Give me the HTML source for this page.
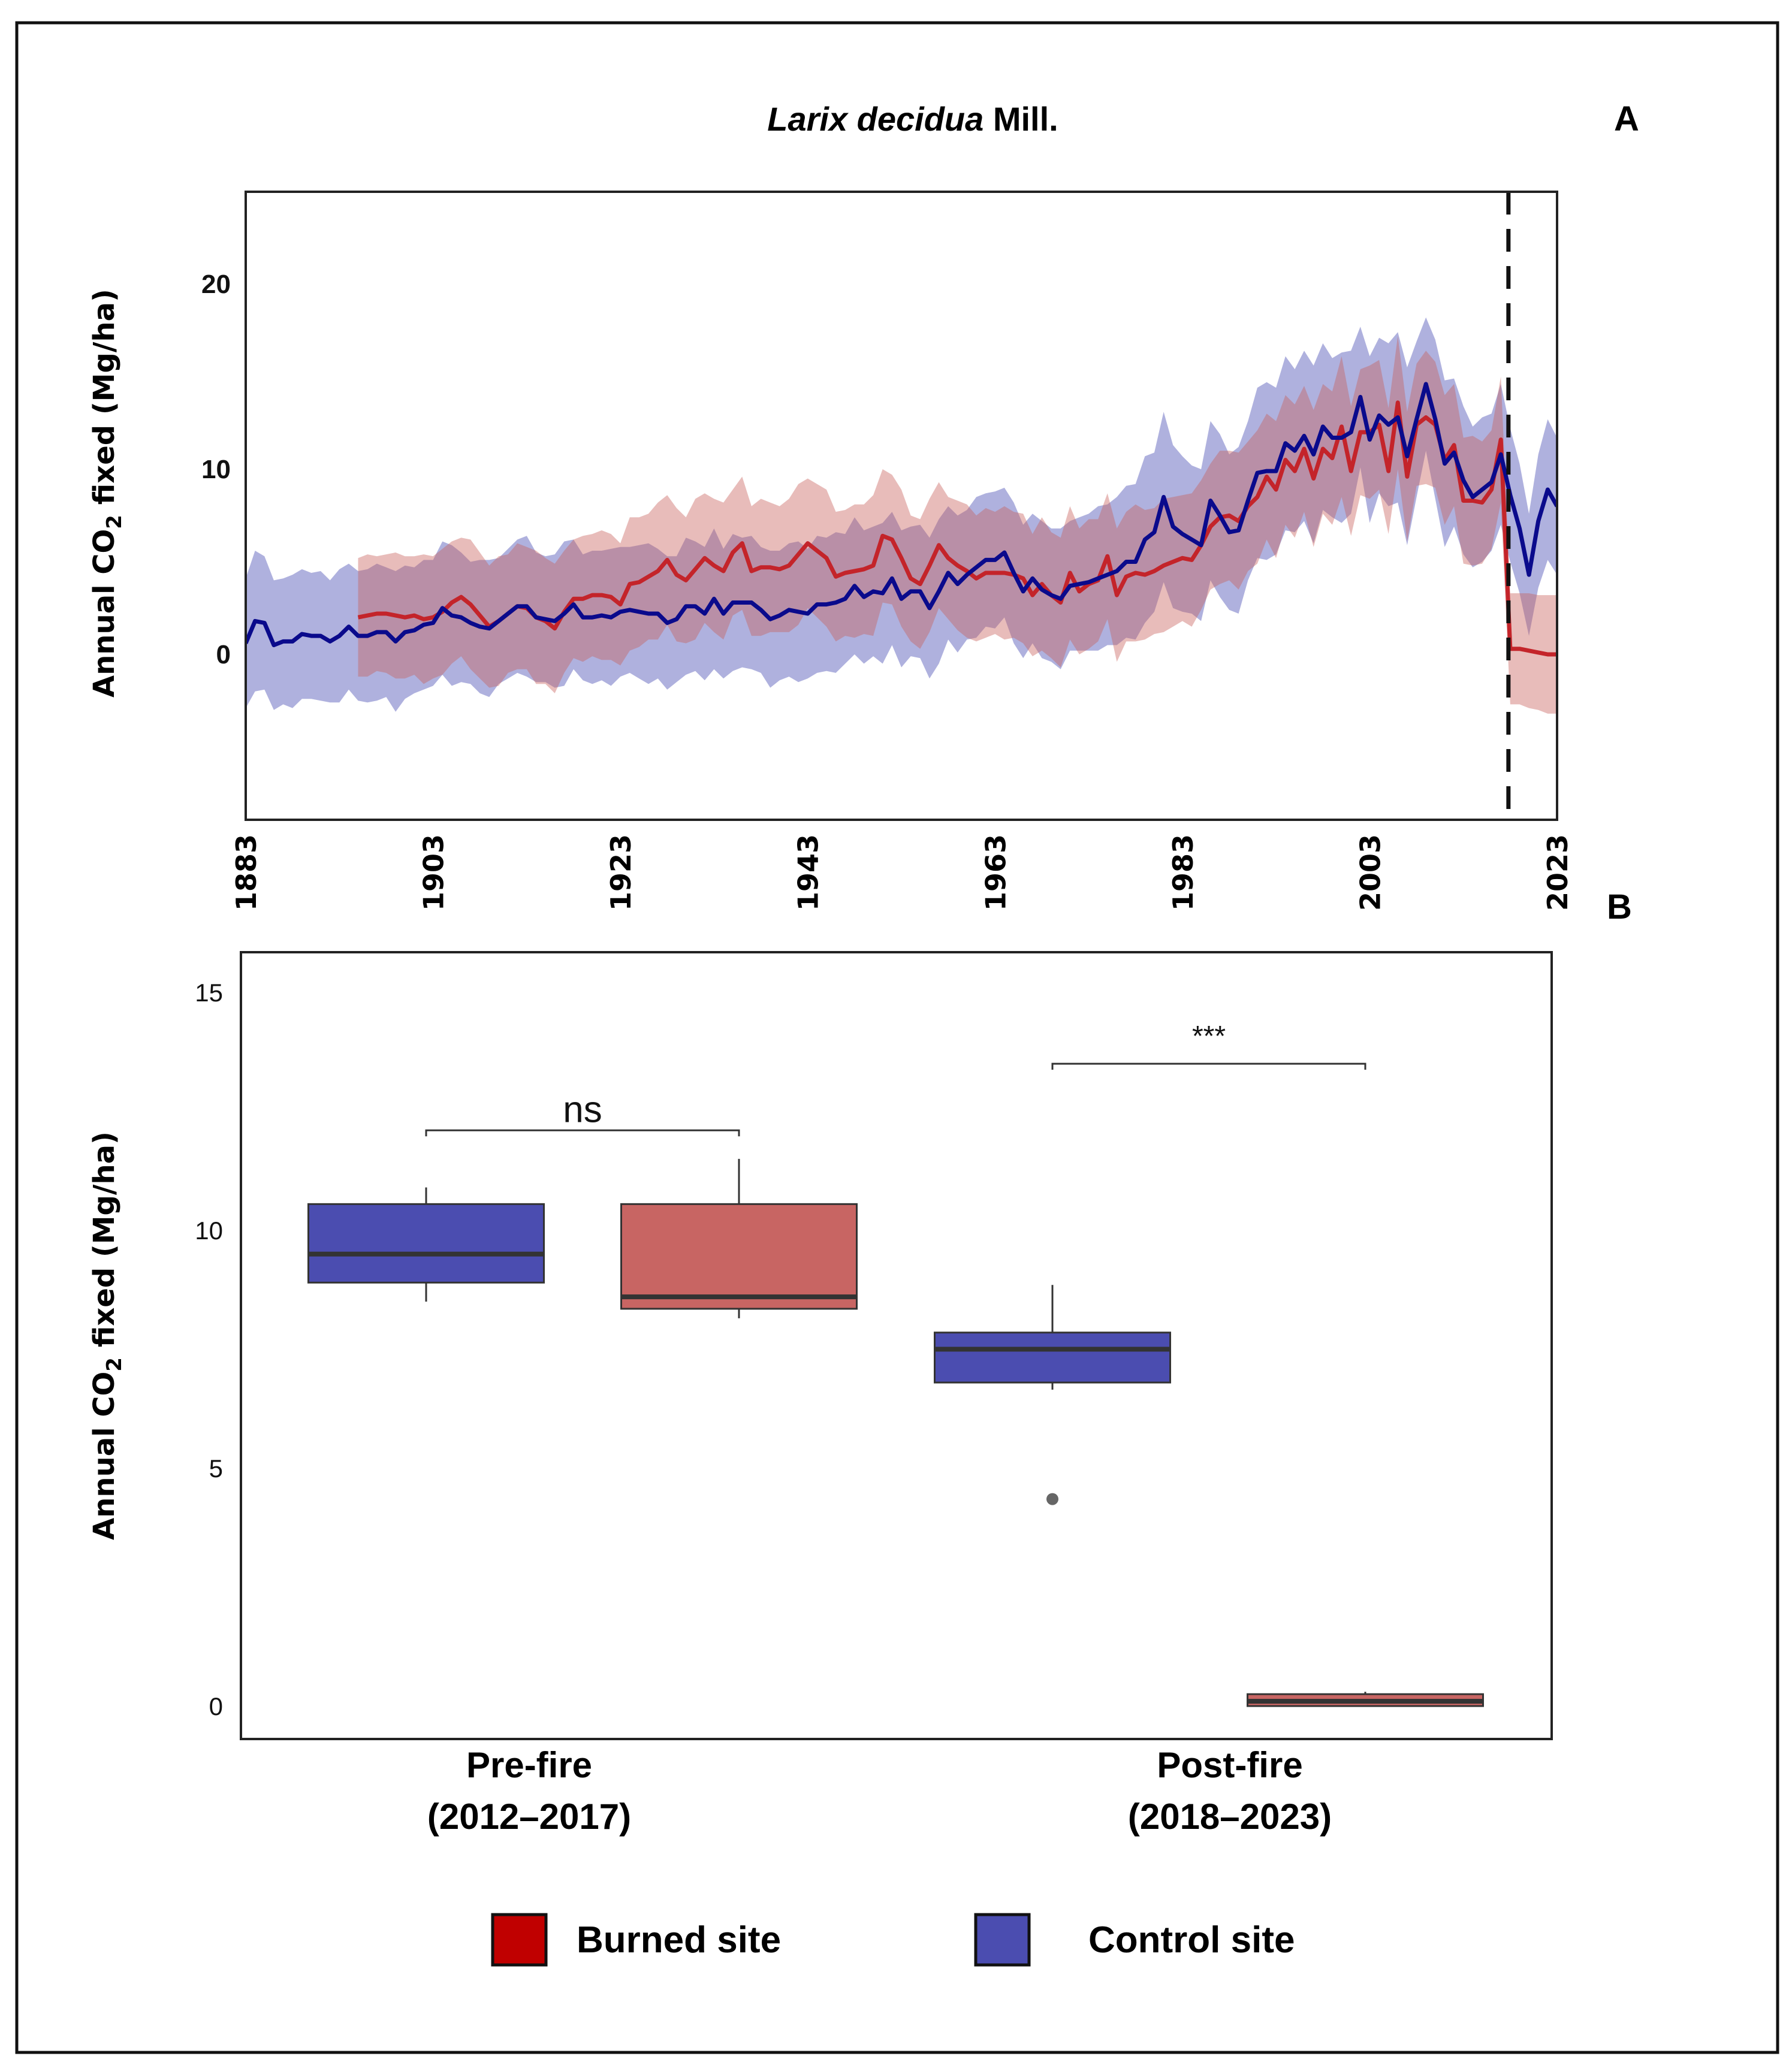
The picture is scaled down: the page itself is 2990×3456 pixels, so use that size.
<!DOCTYPE html>
<html><head><meta charset="utf-8"><style>
html,body{margin:0;padding:0;background:#fff}
svg{display:block}
text{font-family:"Liberation Sans",Arial,sans-serif}
.wide{font-family:"DejaVu Sans","Liberation Sans",sans-serif}
</style></head><body>
<svg id="fig" width="2990" height="3456" viewBox="0 0 2990 3456" xmlns="http://www.w3.org/2000/svg">
<rect x="28" y="38" width="2938" height="3387" fill="#fff" stroke="#111" stroke-width="5"/>
<text x="1523" y="218" text-anchor="middle" font-size="56" font-weight="bold"><tspan font-style="italic">Larix decidua</tspan> Mill.</text>
<text x="2714" y="218" text-anchor="middle" font-size="58" font-weight="bold">A</text>
<text x="2702" y="1533" text-anchor="middle" font-size="58" font-weight="bold">B</text>
<g id="panelA"></g>
<g id="panelB"></g>
<g>
<g>
<rect x="822" y="3195" width="89" height="84" fill="#c00000" stroke="#111" stroke-width="5"/>
<text x="962" y="3258" font-size="62" font-weight="bold">Burned site</text>
</g>
<g>
<rect x="1628" y="3195" width="89" height="84" fill="#4b4db0" stroke="#111" stroke-width="5"/>
<text x="1816" y="3258" font-size="62" font-weight="bold">Control site</text>
</g>
</g>
</svg>
<script>
// ---------- Panel A data ----------
const controlStart = 1883;
const controlMean = [0.6,1.8,1.7,0.5,0.7,0.7,1.1,1.0,1.0,0.7,
1.0,1.5,1.0,1.0,1.2,1.2,0.7,1.2,1.3,1.6,
1.7,2.5,2.1,2.0,1.7,1.5,1.4,1.8,2.2,2.6,
2.6,2.0,1.9,1.8,2.2,2.7,2.0,2.0,2.1,2.0,
2.3,2.4,2.3,2.2,2.2,1.7,1.9,2.6,2.6,2.2,
3.0,2.2,2.8,2.8,2.8,2.4,1.9,2.1,2.4,2.3,
2.2,2.7,2.7,2.8,3.0,3.7,3.1,3.4,3.3,4.1,
3.0,3.4,3.4,2.5,3.4,4.4,3.8,4.3,4.7,5.1,
5.1,5.5,4.4,3.4,4.1,3.5,3.2,3.0,3.7,3.8,
3.9,4.1,4.3,4.5,5.0,5.0,6.2,6.6,8.5,6.9,
6.5,6.2,5.9,8.3,7.5,6.6,6.7,8.3,9.8,9.9,
9.9,11.4,11.0,11.8,10.8,12.3,11.7,11.7,12.0,13.9,
11.6,12.9,12.4,12.8,10.7,12.7,14.6,12.7,10.3,10.9,
9.4,8.5,8.9,9.3,10.8,8.6,6.8,4.3,7.2,8.9,
8.0];
const controlSpread = [3.5,3.8,3.6,3.5,3.4,3.6,3.5,3.4,3.5,3.3,
3.6,3.4,3.5,3.6,3.7,3.5,3.8,3.6,3.4,3.5,
3.4,3.6,3.8,3.5,3.3,3.6,3.7,3.4,3.5,3.6,
3.8,3.5,3.4,3.6,3.9,3.5,3.4,3.6,3.5,3.7,
3.5,3.4,3.6,3.8,3.5,3.6,3.4,3.7,3.5,3.6,
3.8,3.5,3.7,3.5,3.6,3.4,3.7,3.5,3.6,3.8,
3.5,3.7,3.6,3.8,3.5,3.7,3.6,3.5,3.8,3.6,
3.7,3.5,3.6,3.8,3.9,3.6,3.7,3.5,3.8,3.6,
3.7,3.5,3.8,3.6,3.5,3.7,3.6,3.8,3.5,3.6,
3.7,3.9,3.8,4.0,4.1,4.2,4.5,4.3,4.6,4.4,
4.2,4.0,4.1,4.3,4.4,4.2,4.5,4.3,4.6,4.8,
4.5,4.7,4.4,4.6,4.8,4.5,4.3,4.6,4.4,3.8,
4.5,4.2,4.4,4.6,4.8,4.2,3.6,4.3,4.5,4.0,
4.0,3.8,3.9,3.7,3.8,3.6,3.5,3.3,3.6,3.8,
3.7];
const burnedStart = 1895;
const burnedMean = [2.0,2.1,2.2,2.2,2.1,2.0,2.1,1.9,2.0,2.3,
2.8,3.1,2.7,2.1,1.5,1.8,2.2,2.6,2.5,2.0,
1.8,1.4,2.3,3.0,3.0,3.2,3.2,3.1,2.7,3.8,
3.9,4.2,4.5,5.1,4.3,4.0,4.6,5.2,4.8,4.5,
5.5,6.0,4.5,4.7,4.7,4.6,4.8,5.4,6.0,5.6,
5.2,4.2,4.4,4.5,4.6,4.8,6.4,6.2,5.2,4.1,
3.8,4.8,5.9,5.2,4.8,4.5,4.1,4.4,4.4,4.4,
4.3,4.1,3.2,3.8,3.2,2.8,4.4,3.4,3.8,4.0,
5.3,3.2,4.2,4.4,4.3,4.5,4.8,5.0,5.2,5.1,
5.9,6.9,7.4,7.5,7.2,8.0,8.5,9.6,8.9,10.5,
9.9,11.1,9.5,11.1,10.6,12.3,9.9,12.0,12.0,12.4,
9.9,13.6,9.6,12.4,12.8,12.4,10.5,11.3,8.3,8.3,
8.2,8.9,11.6,0.3,0.3,0.2,0.1,0.0,0.0];
const burnedSpread = [3.2,3.3,3.1,3.2,3.4,3.3,3.2,3.5,3.3,3.4,
3.3,3.2,3.5,3.4,3.3,3.5,3.2,3.4,3.3,3.6,
3.4,3.5,3.3,3.2,3.4,3.3,3.5,3.4,3.3,3.6,
3.5,3.4,3.7,3.5,3.6,3.4,3.8,3.5,3.6,3.7,
3.4,3.6,3.5,3.7,3.5,3.4,3.6,3.8,3.5,3.6,
3.7,3.5,3.4,3.6,3.5,3.8,3.6,3.5,3.7,3.4,
3.5,3.6,3.4,3.3,3.5,3.6,3.4,3.5,3.3,3.6,
3.4,3.5,3.3,3.6,3.4,3.5,3.6,3.4,3.5,3.3,
3.4,3.6,3.5,3.7,3.5,3.4,3.6,3.5,3.4,3.6,
3.5,3.4,3.6,3.5,3.7,3.5,3.6,3.4,3.7,3.5,
3.6,3.4,3.7,3.5,3.6,3.8,3.5,3.4,3.6,3.5,
3.4,3.6,3.5,3.3,3.6,3.4,3.5,3.3,3.4,3.5,
3.3,3.2,3.4,3.0,3.0,3.1,3.1,3.2,3.2];
const yearTicks = [1883,1903,1923,1943,1963,1983,2003,2023];
const yTicksA = [0,10,20];
const fireYear = 2018;

// ---------- Panel B data ----------
const groupLabels = [["Pre-fire","(2012\u20132017)"],["Post-fire","(2018\u20132023)"]];
const boxGroup = [0,0,1,1];
const boxSite = ["control","burned","control","burned"];
const boxLow = [8.5,8.15,6.65,0.0];
const boxQ1 = [8.9,8.35,6.8,0.0];
const boxMedian = [9.5,8.6,7.5,0.1];
const boxQ3 = [10.55,10.55,7.85,0.25];
const boxHigh = [10.9,11.5,8.85,0.3];
const outlierBox = [2];
const outlierVal = [4.35];
const yTicksB = [0,5,10,15];
const sigLabels = ["ns","***"];
const sigLevel = [12.1,13.5];

const NS = "http://www.w3.org/2000/svg";
function mk(parent, tag, attrs){const e=document.createElementNS(NS,tag);for(const k in attrs)e.setAttribute(k,attrs[k]);parent.appendChild(e);return e;}

// ===== Panel A =====
const A = document.getElementById('panelA');
const ax = {l:410,r:2598,t:320,b:1368};
const xA = yr => ax.l + (yr-1883)*(ax.r-ax.l)/140;
const yA = v => 1092 - v*30.9;

function bandPath(start, mean, spread){
  let up=[],lo=[];
  mean.forEach((m,i)=>{up.push(xA(start+i).toFixed(1)+','+yA(m+spread[i]).toFixed(1));lo.push(xA(start+i).toFixed(1)+','+yA(m-spread[i]).toFixed(1));});
  return 'M'+up.join('L')+'L'+lo.reverse().join('L')+'Z';
}
function linePath(start, mean){return 'M'+mean.map((m,i)=>xA(start+i).toFixed(1)+','+yA(m).toFixed(1)).join('L');}

const clip = mk(A,'clipPath',{id:'clipA'});
mk(clip,'rect',{x:ax.l,y:ax.t,width:ax.r-ax.l,height:ax.b-ax.t});
const gA = mk(A,'g',{'clip-path':'url(#clipA)'});

const cb = mk(gA,'path',{d:bandPath(controlStart,controlMean,controlSpread),fill:'rgb(96,100,190)','fill-opacity':'0.5'});


const rb = mk(gA,'path',{d:bandPath(burnedStart,burnedMean,burnedSpread),fill:'rgb(200,95,90)','fill-opacity':'0.42'});


const rl = mk(gA,'path',{d:linePath(burnedStart,burnedMean),fill:'none',stroke:'#c4242a','stroke-width':'7','stroke-linejoin':'round'});


const cl = mk(gA,'path',{d:linePath(controlStart,controlMean),fill:'none',stroke:'#0a0a8c','stroke-width':'7','stroke-linejoin':'round'});



const fl = mk(A,'line',{x1:xA(fireYear)-3,x2:xA(fireYear)-3,y1:ax.t,y2:ax.b,stroke:'#111','stroke-width':'7','stroke-dasharray':'38,24'});



const fa = mk(A,'rect',{x:ax.l,y:ax.t,width:ax.r-ax.l,height:ax.b-ax.t,fill:'none',stroke:'#222','stroke-width':'4'});



yTicksA.forEach(v=>{
  const t = mk(A,'text',{x:385,y:yA(v)+15,'text-anchor':'end','font-size':'44','font-weight':'bold',fill:'#111'});
  t.textContent=v;
  
  
});
yearTicks.forEach(yr=>{
  const x=xA(yr);
  const t = mk(A,'text',{x:0,y:0,'text-anchor':'end','font-size':'46','font-weight':'bold','class':'wide',transform:`translate(${x+17},1392) rotate(-90)`});
  t.textContent=yr;
  
  
});
const ta = mk(A,'text',{x:0,y:0,'text-anchor':'middle','font-size':'48','font-weight':'bold','class':'wide',transform:'translate(190,823) rotate(-90)'});
ta.innerHTML='Annual CO<tspan font-size="34" dy="12">2</tspan><tspan dy="-12"> fixed (Mg/ha)</tspan>';



// ===== Panel B =====
const B = document.getElementById('panelB');
const bx = {l:402,r:2589,t:1589,b:2902};
const yB = v => 2847 - v*79.4;
const groupCenters = [972,2017];
const boxW = 393;
const boxX = i => groupCenters[boxGroup[i]] + (boxSite[i]==='control'? -261 : 261);
const fb = mk(B,'rect',{x:bx.l,y:bx.t,width:bx.r-bx.l,height:bx.b-bx.t,fill:'none',stroke:'#222','stroke-width':'4'});



boxLow.forEach((lo,i)=>{
  const cx=boxX(i);
  const g=mk(B,'g',{});
  
  
  mk(g,'line',{x1:cx,x2:cx,y1:yB(boxHigh[i]),y2:yB(boxQ3[i]),stroke:'#333','stroke-width':'3'});
  mk(g,'line',{x1:cx,x2:cx,y1:yB(boxQ1[i]),y2:yB(lo),stroke:'#333','stroke-width':'3'});
  mk(g,'rect',{x:cx-boxW/2,y:yB(boxQ3[i]),width:boxW,height:Math.max(yB(boxQ1[i])-yB(boxQ3[i]),4),fill:boxSite[i]==='control'?'#4b4db0':'#c86563',stroke:'#333','stroke-width':'3'});
  mk(g,'line',{x1:cx-boxW/2,x2:cx+boxW/2,y1:yB(boxMedian[i]),y2:yB(boxMedian[i]),stroke:'#333','stroke-width':'8'});
});
outlierBox.forEach((bi,k)=>{
  const c=mk(B,'circle',{cx:boxX(bi),cy:yB(outlierVal[k]),r:10,fill:'#666'});
  
  
});
sigLabels.forEach((s,k)=>{
  const x1=boxX(k*2), x2=boxX(k*2+1), y=yB(sigLevel[k]);
  const p=mk(B,'path',{d:`M${x1},${y+10}V${y}H${x2}V${y+10}`,fill:'none',stroke:'#333','stroke-width':'3'});
  
  
  const t=mk(B,'text',{x:(x1+x2)/2,y:s==='ns'?y-14:y-30,'text-anchor':'middle','font-size':s==='ns'?'62':'48',fill:'#111'});
  t.textContent=s;
  
  
});
yTicksB.forEach(v=>{
  const t=mk(B,'text',{x:372,y:yB(v)+15,'text-anchor':'end','font-size':'42',fill:'#111'});
  t.textContent=v;
  
  
});
groupLabels.forEach((lines,k)=>{
  const cx = k===0?883:2052;
  lines.forEach((ln,j)=>{
    const t=mk(B,'text',{x:cx,y:2966+j*86,'text-anchor':'middle','font-size':'60','font-weight':'bold'});
    t.textContent=ln;
    
    
  });
});
const tb = mk(B,'text',{x:0,y:0,'text-anchor':'middle','font-size':'48','font-weight':'bold','class':'wide',transform:'translate(190,2229) rotate(-90)'});
tb.innerHTML='Annual CO<tspan font-size="34" dy="12">2</tspan><tspan dy="-12"> fixed (Mg/ha)</tspan>';


</script>
</body></html>
